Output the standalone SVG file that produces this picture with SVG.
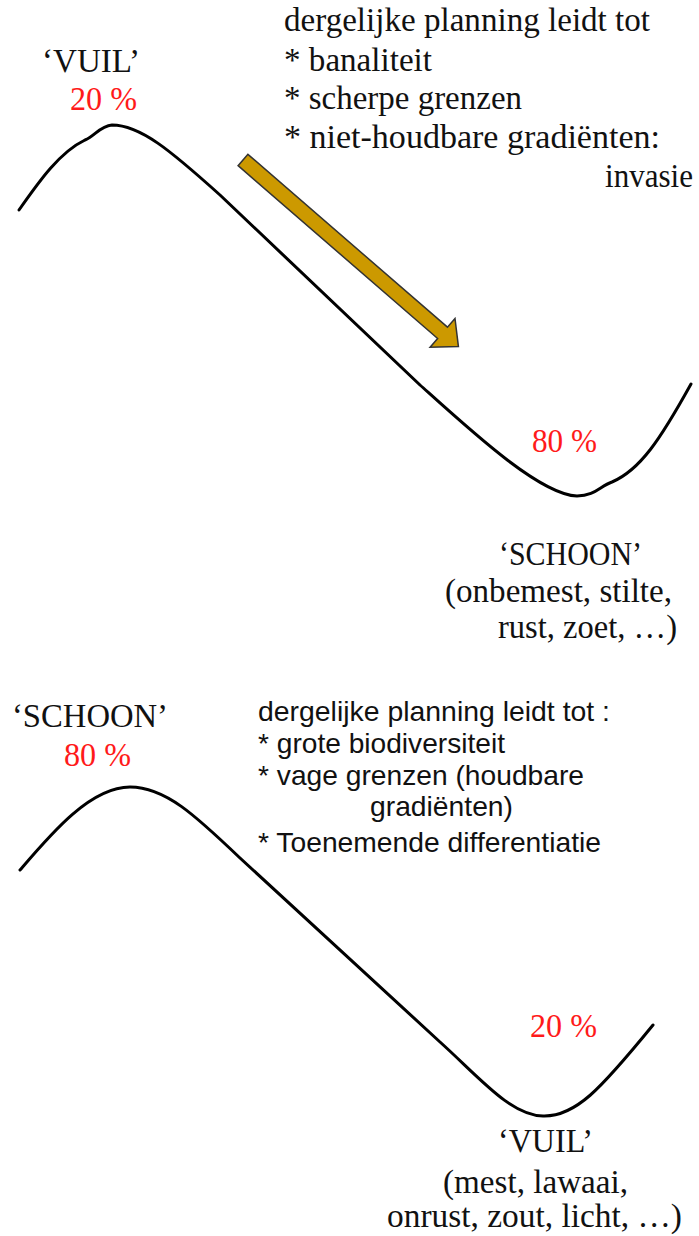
<svg xmlns="http://www.w3.org/2000/svg" width="699" height="1236" viewBox="0 0 699 1236">
<style>
.r{fill:#ff1a1a}
.c{fill:none;stroke:#000;stroke-width:3;stroke-linecap:round;stroke-linejoin:round}
</style>
<rect width="699" height="1236" fill="#fff"/>
<g id="connectors">
<path id="curve-top" class="c" d="M19,210 C40,180 60,152 85,140 C95,136 100,126 112,125 C140,125 170,150 220,195 L420,385 C470,430 540,495 577,496 C595,496 600,486 612,482 C640,470 660,440 691,384"/>
<path id="curve-bottom" class="c" d="M20,870 C50,835 90,787 130,787 C165,787 195,815 240,858 L440,1042 C480,1078 510,1115 543,1116 C575,1117 600,1090 653,1025"/>
<polygon id="arrow" points="0,-7.5 264,-7.5 264,-19 285,0 264,19 264,7.5 0,7.5" transform="translate(243,160) rotate(40.9)" fill="#cc9900" stroke="#333" stroke-width="1.5" stroke-linejoin="miter"/>
</g>
<g id="top-text" font-family="Liberation Serif" font-size="33" fill="#111">
<text x="284" y="31" textLength="366" lengthAdjust="spacingAndGlyphs">dergelijke planning leidt tot</text>
<text x="284" y="71" textLength="148" lengthAdjust="spacingAndGlyphs">* banaliteit</text>
<text x="284" y="109" textLength="238" lengthAdjust="spacingAndGlyphs">* scherpe grenzen</text>
<text x="284" y="148" textLength="376" lengthAdjust="spacingAndGlyphs">* niet-houdbare gradiënten:</text>
<text x="605" y="187" textLength="88" lengthAdjust="spacingAndGlyphs">invasie</text>
</g>
<g id="top-vuil" font-family="Liberation Serif" font-size="33" fill="#111">
<text x="42" y="72" textLength="98" lengthAdjust="spacingAndGlyphs">‘VUIL’</text>
<text class="r" x="70" y="110" textLength="67" lengthAdjust="spacingAndGlyphs">20 %</text>
</g>
<g id="top-schoon" font-family="Liberation Serif" font-size="33" fill="#111">
<text class="r" x="532" y="452" textLength="65" lengthAdjust="spacingAndGlyphs">80 %</text>
<text x="499" y="565" textLength="143" lengthAdjust="spacingAndGlyphs">‘SCHOON’</text>
<text x="445" y="602" textLength="227" lengthAdjust="spacingAndGlyphs">(onbemest, stilte,</text>
<text x="498" y="638" textLength="179" lengthAdjust="spacingAndGlyphs">rust, zoet, …)</text>
</g>
<g id="bottom-schoon" font-family="Liberation Serif" font-size="33" fill="#111">
<text x="12" y="727" textLength="156" lengthAdjust="spacingAndGlyphs">‘SCHOON’</text>
<text class="r" x="64" y="766" textLength="67" lengthAdjust="spacingAndGlyphs">80 %</text>
</g>
<g id="bottom-text" font-family="Liberation Sans" font-size="28" fill="#111">
<text x="258" y="721" textLength="352" lengthAdjust="spacingAndGlyphs">dergelijke planning leidt tot :</text>
<text x="258" y="753" textLength="247" lengthAdjust="spacingAndGlyphs">* grote biodiversiteit</text>
<text x="258" y="785" textLength="326" lengthAdjust="spacingAndGlyphs">* vage grenzen (houdbare</text>
<text x="370" y="816" textLength="143" lengthAdjust="spacingAndGlyphs">gradiënten)</text>
<text x="258" y="852" textLength="343" lengthAdjust="spacingAndGlyphs">* Toenemende differentiatie</text>
</g>
<g id="bottom-vuil" font-family="Liberation Serif" font-size="33" fill="#111">
<text class="r" x="530" y="1037" textLength="67" lengthAdjust="spacingAndGlyphs">20 %</text>
<text x="498" y="1152" textLength="95" lengthAdjust="spacingAndGlyphs">‘VUIL’</text>
<text x="443" y="1193" textLength="185" lengthAdjust="spacingAndGlyphs">(mest, lawaai,</text>
<text x="387" y="1227" textLength="295" lengthAdjust="spacingAndGlyphs">onrust, zout, licht, …)</text>
</g>
</svg>
